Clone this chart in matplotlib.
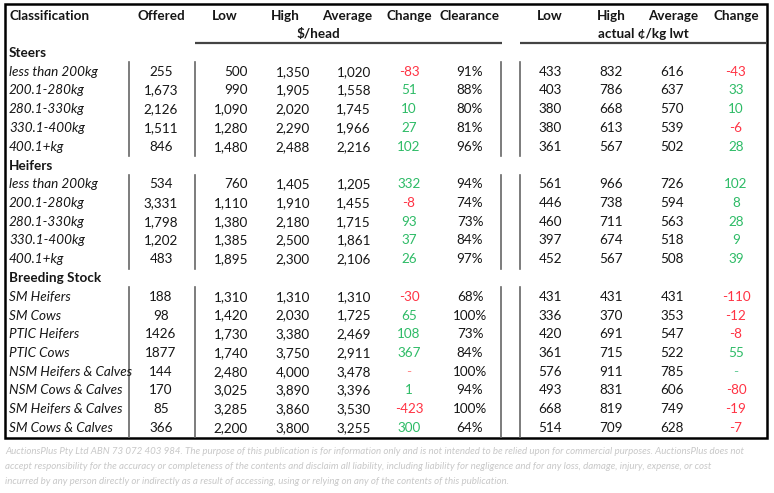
import matplotlib.pyplot as plt
from matplotlib.patches import Rectangle

plt.rcParams["font.family"] = ["Lato", "DejaVu Sans"]

# table data
headers_left = ["Offered", "Low", "High", "Average", "Change", "Clearance"]
headers_right = ["Low", "High", "Average", "Change"]

groups = ["Steers", "Heifers", "Breeding Stock"]
classes = [
    ["less than 200kg", "200.1-280kg", "280.1-330kg", "330.1-400kg", "400.1+kg"],
    ["less than 200kg", "200.1-280kg", "280.1-330kg", "330.1-400kg", "400.1+kg"],
    ["SM Heifers", "SM Cows", "PTIC Heifers", "PTIC Cows", "NSM Heifers & Calves",
     "NSM Cows & Calves", "SM Heifers & Calves", "SM Cows & Calves"],
]
offered = ["255", "1,673", "2,126", "1,511", "846",
           "534", "3,331", "1,798", "1,202", "483",
           "188", "98", "1426", "1877", "144", "170", "85", "366"]
low_head = [500, 990, 1090, 1280, 1480,
            760, 1110, 1380, 1385, 1895,
            1310, 1420, 1730, 1740, 2480, 3025, 3285, 2200]
high_head = [1350, 1905, 2020, 2290, 2488,
             1405, 1910, 2180, 2500, 2300,
             1310, 2030, 3380, 3750, 4000, 3890, 3860, 3800]
avg_head = [1020, 1558, 1745, 1966, 2216,
            1205, 1455, 1715, 1861, 2106,
            1310, 1725, 2469, 2911, 3478, 3396, 3530, 3255]
change_head = [-83, 51, 10, 27, 102,
               332, -8, 93, 37, 26,
               -30, 65, 108, 367, None, 1, -423, 300]
clearance = [91, 88, 80, 81, 96,
             94, 74, 73, 84, 97,
             68, 100, 73, 84, 100, 94, 100, 64]
low_kg = [433, 403, 380, 380, 361,
          561, 446, 460, 397, 452,
          431, 336, 420, 361, 576, 493, 668, 514]
high_kg = [832, 786, 668, 613, 567,
           966, 738, 711, 674, 567,
           431, 370, 691, 715, 911, 831, 819, 709]
avg_kg = [616, 637, 570, 539, 502,
          726, 594, 563, 518, 508,
          431, 353, 547, 522, 785, 606, 749, 628]
change_kg = [-43, 33, 10, -6, 28,
             102, 8, 28, 9, 39,
             -110, -12, -8, 55, None, -80, -19, -7]

footer = [
    "AuctionsPlus Pty Ltd ABN 73 072 403 984. The purpose of this publication is for information only and is not intended to be relied upon for commercial purposes. AuctionsPlus does not",
    "accept responsibility for the accuracy or completeness of the contents and disclaim all liability, including liability for negligence and for any loss, damage, injury, expense, or cost",
    "incurred by any person directly or indirectly as a result of accessing, using or relying on any of the contents of this publication.",
]

TXT = "#161616"
RED = "#ff3344"
GREEN = "#2dbb66"
FS = 9.7

fig = plt.figure(figsize=(7.74, 4.93), dpi=100)
ax = fig.add_axes([0, 0, 1, 1])
ax.set_xlim(0, 774)
ax.set_ylim(493, 0)
ax.axis("off")

row0 = 15.5
dy = 18.75

# clip box for the classification column
clip = Rectangle((5, 0), 122, 493, transform=ax.transData, visible=False)
ax.add_patch(clip)


def ry(i):
    return row0 + i * dy


def fmt(v):
    return f"{v:,}"


def chg(v, none_color):
    if v is None:
        return "-", none_color
    return fmt(v), RED if v < 0 else GREEN


# headers
ax.text(9, ry(0), "Classification", fontsize=FS, weight="bold", color=TXT, va="center")
hx = [(161, "center"), (238, "right"), (300, "right"), (372, "right"), (409, "center"), (470, "center")]
for (x, ha), h in zip(hx, headers_left):
    ax.text(x, ry(0), h, fontsize=FS, weight="bold", color=TXT, ha=ha, va="center")
rx = [(563, "right"), (626, "right"), (698, "right"), (736, "center")]
for (x, ha), h in zip(rx, headers_right):
    ax.text(x, ry(0), h, fontsize=FS, weight="bold", color=TXT, ha=ha, va="center")
ax.text(318, ry(1), "$/head", fontsize=FS, weight="bold", color=TXT, ha="center", va="center")
ax.text(643, ry(1), "actual ¢/kg lwt", fontsize=FS, weight="bold", color=TXT, ha="center", va="center")
ax.plot([195, 502], [43, 43], color="#444444", lw=1.6, solid_capstyle="butt")
ax.plot([520, 767], [43, 43], color="#444444", lw=1.6, solid_capstyle="butt")

# body
r = 2
k = 0
for g, names in zip(groups, classes):
    ax.text(9, ry(r), g, fontsize=FS, weight="bold", color=TXT, va="center")
    r += 1
    top = ry(r) - dy / 2
    for name in names:
        y = ry(r)
        t = ax.text(9, y, name, fontsize=FS, style="italic", color=TXT, va="center")
        t.set_clip_path(clip)
        ax.text(161, y, offered[k], fontsize=FS, color=TXT, ha="center", va="center")
        ax.text(248, y, fmt(low_head[k]), fontsize=FS, color=TXT, ha="right", va="center")
        ax.text(310, y, fmt(high_head[k]), fontsize=FS, color=TXT, ha="right", va="center")
        ax.text(371, y, fmt(avg_head[k]), fontsize=FS, color=TXT, ha="right", va="center")
        s, c = chg(change_head[k], "#ff8888")
        ax.text(409, y, s, fontsize=FS, color=c, ha="center", va="center")
        ax.text(470, y, f"{clearance[k]}%", fontsize=FS, color=TXT, ha="center", va="center")
        ax.text(562, y, fmt(low_kg[k]), fontsize=FS, color=TXT, ha="right", va="center")
        ax.text(623, y, fmt(high_kg[k]), fontsize=FS, color=TXT, ha="right", va="center")
        ax.text(684, y, fmt(avg_kg[k]), fontsize=FS, color=TXT, ha="right", va="center")
        s, c = chg(change_kg[k], "#66cc99")
        ax.text(736, y, s, fontsize=FS, color=c, ha="center", va="center")
        r += 1
        k += 1
    bot = ry(r - 1) + dy / 2
    for x in (128.5, 194.5, 501, 520):
        ax.plot([x, x], [top, bot], color="#666666", lw=1.2)

# outer border
ax.add_patch(Rectangle((5, 4), 762, 433.5, fill=False, ec="black", lw=1.8))

# footer
for i, line in enumerate(footer):
    ax.text(5, 452 + i * 14.5, line, fontsize=7.0, style="italic", color="#c8c8c8", va="center")

fig.savefig("out.png", dpi=100)
